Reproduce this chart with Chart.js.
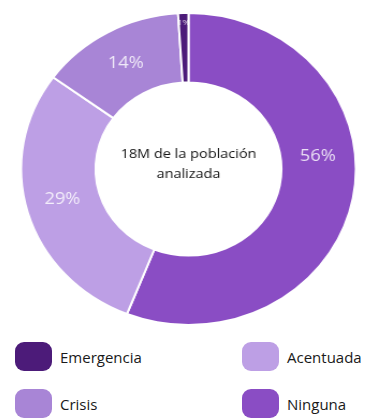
<!DOCTYPE html>
<html>
<head>
<meta charset="utf-8">
<script src="https://cdn.jsdelivr.net/npm/chart.js@4.4.1/dist/chart.umd.min.js"></script>
<style>
  html, body { margin: 0; padding: 0; background: #fff; }
  body { width: 366px; height: 419px; position: relative; overflow: hidden; font-family: "Open Sans", sans-serif; }
  #wrap { position: absolute; left: 0; top: 0; width: 366px; height: 340px;
          transform: scaleX(1.073); transform-origin: 188.5px 169px; }
  #legend { position: absolute; left: 15px; top: 342px; display: grid;
            grid-template-columns: 227px auto; row-gap: 18px; }
  .item { display: flex; align-items: center; height: 29px; }
  .sw { width: 37px; height: 29px; border-radius: 9px; margin-right: 8px; flex: none; }
  .item span { font-size: 15px; color: #1a1a1a; }
</style>
</head>
<body>
<div id="wrap"><canvas id="c"></canvas></div>
<div id="legend"></div>
<script>
// Population share by food-insecurity level (%)
const categories = ['Ninguna', 'Acentuada', 'Crisis', 'Emergencia'];
const shares = [56, 29, 14, 1];
const colors = ['#8a4dc4', '#bd9fe5', '#a885d6', '#4c1b79'];
const legendOrder = ['Emergencia', 'Acentuada', 'Crisis', 'Ninguna'];
const centerLines = ['18M de la población', 'analizada'];

// Percentage labels on each slice, plus the caption in the hole
const sliceLabels = {
  id: 'sliceLabels',
  afterDatasetsDraw(chart, args, opts) {
    const { ctx } = chart;
    const meta = chart.getDatasetMeta(0);
    ctx.save();
    ctx.textAlign = 'center';
    ctx.textBaseline = 'middle';
    meta.data.forEach((arc, i) => {
      const p = arc.getProps(['startAngle', 'endAngle', 'innerRadius', 'outerRadius', 'x', 'y'], true);
      const n = opts.nudges[i] || {};
      const a = (p.startAngle + p.endAngle) / 2 + (n.angle || 0) * Math.PI / 180;
      const r = p.innerRadius + (p.outerRadius - p.innerRadius) * (n.radial ?? 0.5);
      ctx.font = (n.size || opts.size) + 'px "Open Sans", sans-serif';
      ctx.fillStyle = opts.color;
      ctx.fillText(shares[i] + '%', p.x + Math.cos(a) * r, p.y + Math.sin(a) * r);
    });
    const c = meta.data[0];
    ctx.fillStyle = '#141414';
    ctx.font = '13.5px "Open Sans", sans-serif';
    ctx.fillText(centerLines[0], c.x, c.y - 15);
    ctx.fillText(centerLines[1], c.x, c.y + 5);
    ctx.restore();
  }
};

new Chart(document.getElementById('c'), {
  type: 'doughnut',
  data: {
    labels: categories,
    datasets: [{
      data: shares,
      backgroundColor: colors,
      borderColor: '#ffffff',
      borderWidth: 2,
      hoverOffset: 0
    }]
  },
  options: {
    responsive: true,
    maintainAspectRatio: false,
    animation: false,
    cutout: '55.5%',
    layout: { padding: { left: 31.5, right: 20.5, top: 12, bottom: 14 } },
    plugins: {
      legend: { display: false },
      tooltip: { enabled: false },
      sliceLabels: {
        color: 'rgba(255,255,255,0.82)',
        size: 17,
        nudges: { 0: { angle: -17 }, 1: { angle: 2 }, 3: { radial: 0.86, size: 8 } }
      }
    }
  },
  plugins: [sliceLabels]
});

// Two-column legend
const legend = document.getElementById('legend');
legendOrder.forEach(name => {
  const i = categories.indexOf(name);
  const item = document.createElement('div');
  item.className = 'item';
  const sw = document.createElement('div');
  sw.className = 'sw';
  sw.style.background = colors[i];
  const label = document.createElement('span');
  label.textContent = name;
  item.appendChild(sw);
  item.appendChild(label);
  legend.appendChild(item);
});
</script>
</body>
</html>
